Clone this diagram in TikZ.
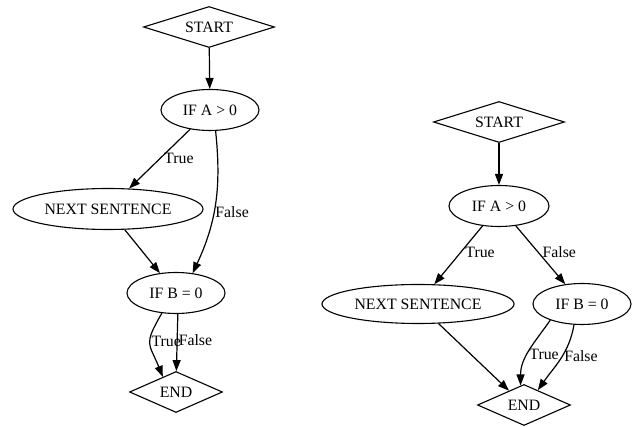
\documentclass[tikz,border=0pt]{standalone}
\usepackage{fontspec}
\newfontfamily\flowfont{Liberation Serif}
\usetikzlibrary{shapes.geometric,arrows.meta}

\begin{document}
\begin{tikzpicture}[x=1pt, y=-1pt,
    every node/.style={font=\flowfont\fontsize{15.8}{19}\selectfont},
    term/.style={draw, line width=1.1pt, diamond, aspect=3.2, inner sep=0pt, minimum width=131pt, minimum height=41pt},
    endterm/.style={term, minimum width=93pt},
    test/.style={draw, line width=1.1pt, ellipse, inner sep=0pt, minimum width=98pt, minimum height=41pt},
    edge/.style={line width=1.2pt, -{Triangle[length=11pt, width=8pt]}},
    lbl/.style={right, inner sep=1.5pt}]
  \useasboundingbox (0,0) rectangle (633,427);
  % left graph
  \node[term] (lStart) at (209,27) {START};
  \node[test] (lA) at (210,110) {IF A > 0};
  \node[test, minimum width=190pt] (lNext) at (108,209) {NEXT SENTENCE};
  \node[test] (lB) at (176,293) {IF B = 0};
  \node[endterm] (lEnd) at (176,392) {END};
  % right graph
  \node[term] (rStart) at (499,122) {START};
  \node[test, minimum width=100pt] (rA) at (499,206) {IF A > 0};
  \node[test, minimum width=192pt, minimum height=39pt] (rNext) at (418,304) {NEXT SENTENCE};
  \node[test] (rB) at (582,304) {IF B = 0};
  \node[endterm] (rEnd) at (524,405) {END};
  % Draw the left edges
  \draw[edge] (lStart) -- (lA);
  \draw[edge] (lA) -- node[lbl, pos=0.5, inner sep=4pt] {True} (lNext);
  \draw[edge] (lA.-75) to[out=-84, in=65] node[lbl, pos=0.56, inner sep=1pt] {False} (lB.50);
  \draw[edge] (lNext) -- (lB);
  \draw[edge] (lB.-125) to[out=-120, in=112, looseness=1.5] node[lbl, pos=0.45, inner sep=1pt] {True} (lEnd.131);
  \draw[edge] (lB.-85) -- node[lbl, pos=0.45, inner sep=1pt] {False} (lEnd.89);
  % Draw the right edges
  \draw[edge] (rStart) -- (rA);
  \draw[edge] (rA) -- node[lbl, pos=0.45, inner sep=4pt] {True} (rNext);
  \draw[edge] (rA) -- node[lbl, pos=0.45, inner sep=4pt] {False} (rB);
  \draw[edge] (rNext) -- (rEnd);
  \draw[edge] (rB.-153) to[out=-125, in=90] node[lbl, pos=0.55, inner sep=1pt] {True} (rEnd.100);
  \draw[edge] (rB.-111) to[out=-100, in=55] node[lbl, pos=0.45] {False} (rEnd.47);
\end{tikzpicture}
\end{document}
